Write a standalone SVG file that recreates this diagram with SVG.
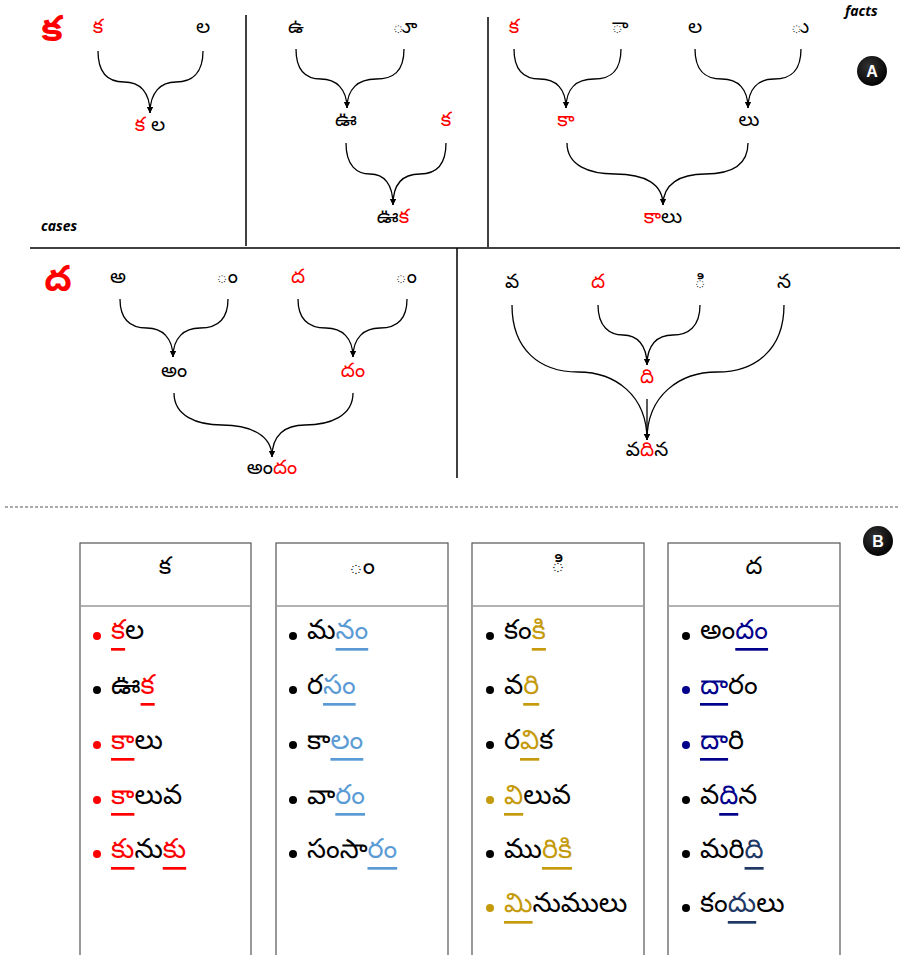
<svg xmlns="http://www.w3.org/2000/svg" width="901" height="955" viewBox="0 0 901 955">
<style>
.t{font-family:"Noto Sans Telugu","Gautami","Pothana2000","Noto Sans",sans-serif;font-size:20px;fill:#000;text-anchor:middle;dominant-baseline:central}
.r{fill:#ff0000}
.big{font-family:"Noto Sans Telugu","Gautami","Noto Sans",sans-serif;font-size:36px;font-weight:bold;fill:#ff0000;text-anchor:middle;dominant-baseline:central}
.lab{font-family:"Open Sans","Liberation Sans",sans-serif;font-size:14px;font-weight:bold;font-style:italic;fill:#000}
.c{fill:none;stroke:#000;stroke-width:1.3;marker-end:url(#ah)}
.div{stroke:#000;stroke-width:1.5}
.box{fill:#fff;stroke:#555;stroke-width:1.2}
.hd{stroke:#999;stroke-width:1.5}
.ht{font-family:"Noto Sans Telugu","Gautami","Noto Sans",sans-serif;font-size:24px;fill:#000;text-anchor:middle;dominant-baseline:central}
.w{font-family:"Noto Sans Telugu","Gautami","Noto Sans",sans-serif;font-size:27px;fill:#000;dominant-baseline:central}
.u{text-decoration:underline;text-decoration-thickness:1.5px;text-underline-offset:5px}
.red{fill:#ff0000}
.blu{fill:#5b9bd5}
.gld{fill:#c59a0c}
.nav{fill:#00008b}
.nv2{fill:#1f3864}
.badge text{font-family:"Liberation Sans",sans-serif;font-size:16px;font-weight:bold;fill:#fff;text-anchor:middle;dominant-baseline:central}
</style>
<defs>
<marker id="ah" viewBox="0 0 6 6" refX="6" refY="3" markerWidth="6" markerHeight="6" markerUnits="userSpaceOnUse" orient="auto">
<path d="M0,0 L6,3 L0,6 z" fill="#000"/>
</marker>
<radialGradient id="bg" cx="0.4" cy="0.35" r="0.7">
<stop offset="0" stop-color="#333"/>
<stop offset="1" stop-color="#000"/>
</radialGradient>
</defs>

<g id="dividers">
<line class="div" x1="246" y1="15" x2="246" y2="246"/>
<line class="div" x1="488" y1="17" x2="488" y2="247"/>
<line class="div" x1="30" y1="248" x2="900" y2="248"/>
<line class="div" x1="457" y1="248" x2="457" y2="478"/>
<line x1="5" y1="507" x2="900" y2="507" stroke="#555" stroke-width="1" stroke-dasharray="3,2"/>
</g>

<g id="labels">
<text class="big" x="52" y="34">క</text>
<text class="big" x="58" y="284">ద</text>
<text class="lab" x="41" y="231">cases</text>
<text class="lab" x="845" y="16">facts</text>
</g>
<g id="badgeA" class="badge"><circle cx="872" cy="71" r="15" fill="url(#bg)"/><text x="872" y="71">A</text></g>
<g id="badgeB" class="badge"><circle cx="878" cy="541" r="15" fill="url(#bg)"/><text x="878" y="541">B</text></g>

<g id="connectors">
<path class="c" d="M98,51 C98,73 108,82 124,82 C140,82 150,92 150,113"/>
<path class="c" d="M203,51 C203,73 192,82 176,82 C161,82 150,92 150,113"/>
<path class="c" d="M296,49 C296,72 307,79 321,79 C336,79 347,89 347,108"/>
<path class="c" d="M404,49 C404,72 393,79 376,79 C358,79 347,89 347,108"/>
<path class="c" d="M346,143 C346,166 357,174 370,174 C384,174 393,184 393,205"/>
<path class="c" d="M446,143 C446,166 435,174 420,174 C403,174 393,184 393,205"/>
<path class="c" d="M514,49 C514,72 525,79 540,79 C556,79 566,89 566,108"/>
<path class="c" d="M621,49 C621,72 610,79 594,79 C576,79 566,89 566,108"/>
<path class="c" d="M695,49 C695,72 706,79 722,79 C738,79 748,89 748,108"/>
<path class="c" d="M801,49 C801,72 790,79 774,79 C758,79 748,89 748,108"/>
<path class="c" d="M567,143 C567,166 590,174 615,174 C645,174 663,184 663,205"/>
<path class="c" d="M748,143 C748,166 730,174 705,174 C680,174 663,184 663,205"/>
<path class="c" d="M120,299 C120,321 132,328 147,328 C162,328 173,338 173,357"/>
<path class="c" d="M228,299 C228,321 216,328 200,328 C184,328 173,338 173,357"/>
<path class="c" d="M298,299 C298,321 310,328 326,328 C342,328 353,338 353,357"/>
<path class="c" d="M407,299 C407,321 395,328 380,328 C364,328 353,338 353,357"/>
<path class="c" d="M174,393 C174,416 197,425 222,425 C250,425 272,435 272,457"/>
<path class="c" d="M353,393 C353,416 330,425 305,425 C285,425 272,435 272,457"/>
<path class="c" d="M598,305 C598,327 610,335 623,335 C637,335 647,345 647,365"/>
<path class="c" d="M700,305 C700,327 688,335 673,335 C657,335 647,345 647,365"/>
<path class="c" d="M512,305 C512,350 540,372 578,372 C615,372 647,395 647,440"/>
<path class="c" d="M784,305 C784,350 755,372 717,372 C680,372 647,395 647,440"/>
<path class="c" d="M647,399 L647,440"/>
</g>

<g id="p1">
<text class="t r" x="98" y="29">క</text>
<text class="t" x="203" y="29">ల</text>
<text class="t" x="150" y="127"><tspan class="r">క</tspan> ల</text>
</g>
<g id="p2">
<text class="t" x="296" y="29">ఉ</text>
<text class="t" x="405" y="29">◌ూ</text>
<text class="t" x="346" y="122">ఊ</text>
<text class="t r" x="446" y="122">క</text>
<text class="t" x="393" y="219">ఊ<tspan class="r">క</tspan></text>
</g>
<g id="p3">
<text class="t r" x="514" y="29">క</text>
<text class="t" x="620" y="29">◌ా</text>
<text class="t" x="695" y="29">ల</text>
<text class="t" x="800" y="29">◌ు</text>
<text class="t r" x="566" y="122">కా</text>
<text class="t" x="749" y="122">లు</text>
<text class="t" x="663" y="219"><tspan class="r">కా</tspan>లు</text>
</g>
<g id="p4">
<text class="t" x="118" y="279">అ</text>
<text class="t" x="227" y="279">◌ం</text>
<text class="t r" x="298" y="279">ద</text>
<text class="t" x="406" y="279">◌ం</text>
<text class="t" x="174" y="373">అం</text>
<text class="t r" x="353" y="373">దం</text>
<text class="t" x="272" y="470">అం<tspan class="r">దం</tspan></text>
</g>
<g id="p5">
<text class="t" x="512" y="284">వ</text>
<text class="t r" x="598" y="284">ద</text>
<text class="t" x="700" y="284">◌ి</text>
<text class="t" x="784" y="284">న</text>
<text class="t r" x="647" y="379">ది</text>
<text class="t" x="647" y="452">వ<tspan class="r">ది</tspan>న</text>
</g>

<g id="table1">
<rect class="box" x="80" y="543" width="171" height="420"/>
<line class="hd" x1="80" y1="606" x2="251" y2="606"/>
<text class="ht" x="165" y="569">క</text>
<circle cx="97" cy="636" r="4" fill="#ff0000"/>
<text class="w" x="111" y="634"><tspan class="red u">క</tspan>ల</text>
<circle cx="97" cy="690" r="4" fill="#000"/>
<text class="w" x="111" y="689">ఊ<tspan class="red u">క</tspan></text>
<circle cx="97" cy="745" r="4" fill="#ff0000"/>
<text class="w" x="111" y="744"><tspan class="red u">కా</tspan>లు</text>
<circle cx="97" cy="800" r="4" fill="#ff0000"/>
<text class="w" x="111" y="799"><tspan class="red u">కా</tspan>లువ</text>
<circle cx="97" cy="854" r="4" fill="#ff0000"/>
<text class="w" x="111" y="853"><tspan class="red u">కు</tspan>ను<tspan class="red u">కు</tspan></text>
</g>

<g id="table2">
<rect class="box" x="276" y="543" width="172" height="420"/>
<line class="hd" x1="276" y1="606" x2="448" y2="606"/>
<text class="ht" x="362" y="569">◌ం</text>
<circle cx="293" cy="636" r="4" fill="#000"/>
<text class="w" x="307" y="634">మ<tspan class="blu u">నం</tspan></text>
<circle cx="293" cy="690" r="4" fill="#000"/>
<text class="w" x="307" y="689">ర<tspan class="blu u">సం</tspan></text>
<circle cx="293" cy="745" r="4" fill="#000"/>
<text class="w" x="307" y="744">కా<tspan class="blu u">లం</tspan></text>
<circle cx="293" cy="800" r="4" fill="#000"/>
<text class="w" x="307" y="799">వా<tspan class="blu u">రం</tspan></text>
<circle cx="293" cy="854" r="4" fill="#000"/>
<text class="w" x="307" y="853">సంసా<tspan class="blu u">రం</tspan></text>
</g>

<g id="table3">
<rect class="box" x="472" y="543" width="172" height="420"/>
<line class="hd" x1="472" y1="606" x2="644" y2="606"/>
<text class="ht" x="558" y="567">◌ి</text>
<circle cx="490" cy="636" r="4" fill="#000"/>
<text class="w" x="504" y="634">కం<tspan class="gld u">కి</tspan></text>
<circle cx="490" cy="690" r="4" fill="#000"/>
<text class="w" x="504" y="689">వ<tspan class="gld u">రి</tspan></text>
<circle cx="490" cy="745" r="4" fill="#000"/>
<text class="w" x="504" y="744">ర<tspan class="gld u">వి</tspan>క</text>
<circle cx="490" cy="800" r="4" fill="#c59a0c"/>
<text class="w" x="504" y="799"><tspan class="gld u">వి</tspan>లువ</text>
<circle cx="490" cy="854" r="4" fill="#000"/>
<text class="w" x="504" y="853">ము<tspan class="gld u">రికి</tspan></text>
<circle cx="490" cy="908" r="4" fill="#c59a0c"/>
<text class="w" x="504" y="907"><tspan class="gld u">మి</tspan>నుములు</text>
</g>

<g id="table4">
<rect class="box" x="668" y="543" width="172" height="420"/>
<line class="hd" x1="668" y1="606" x2="840" y2="606"/>
<text class="ht" x="754" y="569">ద</text>
<circle cx="686" cy="636" r="4" fill="#000"/>
<text class="w" x="700" y="634">అం<tspan class="nav u">దం</tspan></text>
<circle cx="686" cy="690" r="4" fill="#00008b"/>
<text class="w" x="700" y="689"><tspan class="nav u">దా</tspan>రం</text>
<circle cx="686" cy="745" r="4" fill="#00008b"/>
<text class="w" x="700" y="744"><tspan class="nav u">దా</tspan>రి</text>
<circle cx="686" cy="800" r="4" fill="#000"/>
<text class="w" x="700" y="799">వ<tspan class="nav u">ది</tspan>న</text>
<circle cx="686" cy="854" r="4" fill="#000"/>
<text class="w" x="700" y="853">మరి<tspan class="nv2 u">ది</tspan></text>
<circle cx="686" cy="908" r="4" fill="#000"/>
<text class="w" x="700" y="907">కం<tspan class="nv2 u">దు</tspan>లు</text>
</g>
</svg>
